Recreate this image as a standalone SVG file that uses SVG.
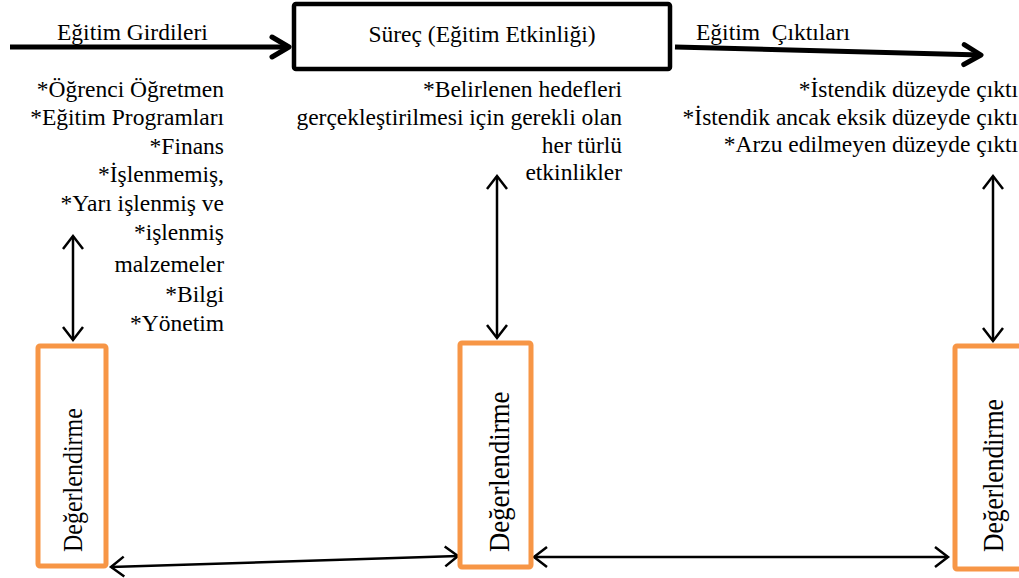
<svg xmlns="http://www.w3.org/2000/svg" width="1019" height="578" viewBox="0 0 1019 578">
<defs>
<style>
text{font-family:"Liberation Serif","Times New Roman","DejaVu Serif",serif;fill:#000}
.t{font-size:23.5px}
.r{text-anchor:end}
.thick{stroke:#000;stroke-width:5;fill:none}
.thin{stroke:#000;stroke-width:2.5;fill:none}
.eval{fill:#fff;stroke:#F79646;stroke-width:5}
.ev{font-size:25px}
</style>
<marker id="bigHead" markerUnits="userSpaceOnUse" viewBox="-22 -14 26 28" markerWidth="26" markerHeight="28" refX="0" refY="0" orient="auto">
<path d="M-17,-10 L0,0 L-17,10" fill="none" stroke="#000" stroke-width="5" stroke-linecap="round" stroke-linejoin="round"/>
</marker>
<marker id="chev" markerUnits="userSpaceOnUse" viewBox="-16 -13 19 26" markerWidth="19" markerHeight="26" refX="0" refY="0" orient="auto-start-reverse">
<path d="M-13,-10 L0,0 L-13,10" fill="none" stroke="#000" stroke-width="2.5"/>
</marker>
</defs>

<g id="connectors">
<line class="thick" x1="10" y1="47" x2="289" y2="47" marker-end="url(#bigHead)"/>
<line class="thick" x1="675" y1="47" x2="981" y2="55" marker-end="url(#bigHead)"/>
<line class="thin" x1="73" y1="236" x2="73" y2="340" marker-start="url(#chev)" marker-end="url(#chev)"/>
<line class="thin" x1="497" y1="176" x2="497" y2="338" marker-start="url(#chev)" marker-end="url(#chev)"/>
<line class="thin" x1="993" y1="176" x2="993" y2="341" marker-start="url(#chev)" marker-end="url(#chev)"/>
<line class="thin" x1="111" y1="567" x2="458" y2="556" marker-start="url(#chev)" marker-end="url(#chev)"/>
<line class="thin" x1="534" y1="557" x2="948" y2="557" marker-start="url(#chev)" marker-end="url(#chev)"/>
</g>

<g id="label-inputs">
<text class="t" x="57" y="40">Eğitim Girdileri</text>
</g>
<g id="label-outputs">
<text class="t" x="696" y="40" xml:space="preserve">Eğitim  Çıktıları</text>
</g>

<g id="process">
<rect x="294" y="4" width="376" height="65" rx="2" fill="#fff" stroke="#000" stroke-width="4.5"/>
<text class="t" x="482" y="42" text-anchor="middle">Süreç (Eğitim Etkinliği)</text>
</g>

<g id="inputs-list">
<text class="t r" x="224" y="97">*Öğrenci Öğretmen</text>
<text class="t r" x="224" y="125">*Eğitim Programları</text>
<text class="t r" x="224" y="154">*Finans</text>
<text class="t r" x="224" y="182">*İşlenmemiş,</text>
<text class="t r" x="224" y="211">*Yarı işlenmiş ve</text>
<text class="t r" x="224" y="240">*işlenmiş</text>
<text class="t r" x="224" y="272">malzemeler</text>
<text class="t r" x="224" y="302">*Bilgi</text>
<text class="t r" x="224" y="331">*Yönetim</text>
</g>

<g id="process-list">
<text class="t r" x="622" y="97">*Belirlenen hedefleri</text>
<text class="t r" x="622" y="125">gerçekleştirilmesi için gerekli olan</text>
<text class="t r" x="622" y="153">her türlü</text>
<text class="t r" x="622" y="180">etkinlikler</text>
</g>

<g id="outputs-list">
<text class="t r" x="1018" y="97">*İstendik düzeyde çıktı</text>
<text class="t r" x="1018" y="125">*İstendik ancak eksik düzeyde çıktı</text>
<text class="t r" x="1018" y="152">*Arzu edilmeyen düzeyde çıktı</text>
</g>

<g id="eval-1">
<rect class="eval" x="38" y="346" width="68" height="220" rx="2"/>
<text class="ev" transform="translate(82,552) rotate(-90) scale(0.96,1.07)">Değerlendirme</text>
</g>
<g id="eval-2">
<rect class="eval" x="460" y="343" width="71" height="224" rx="2"/>
<text class="ev" transform="translate(509,552) rotate(-90) scale(1.07,1.2)">Değerlendirme</text>
</g>
<g id="eval-3">
<rect class="eval" x="955" y="346" width="72" height="223" rx="2"/>
<text class="ev" transform="translate(1003,552) rotate(-90) scale(1.02,1.15)">Değerlendirme</text>
</g>
</svg>
